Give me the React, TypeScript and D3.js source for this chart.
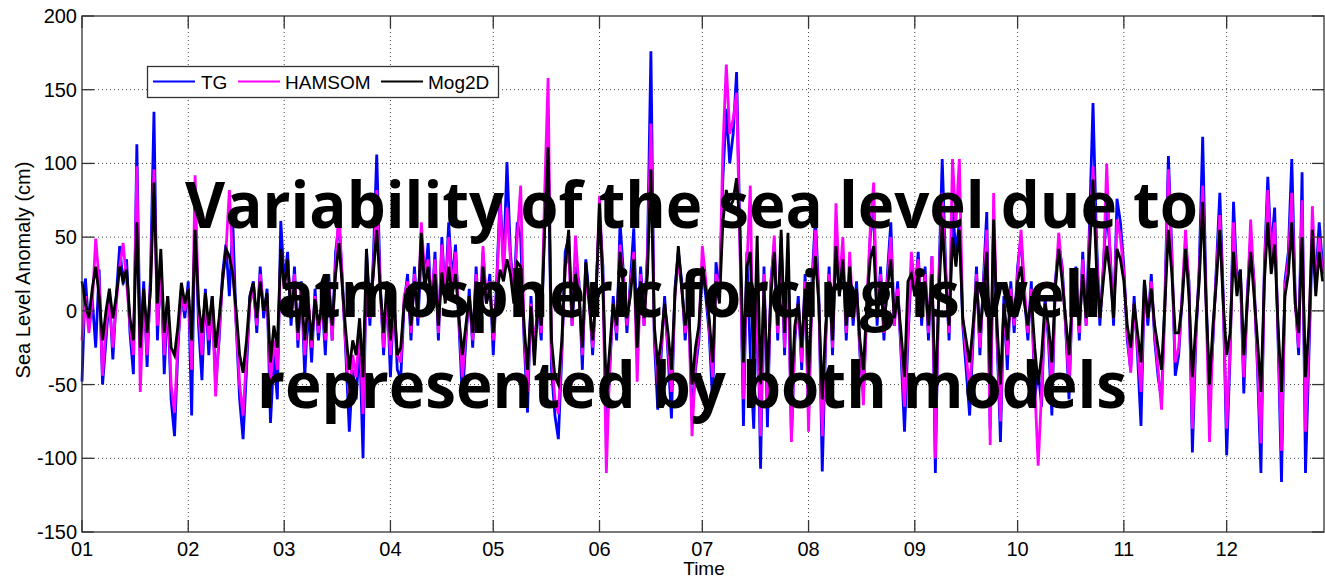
import React from 'react';
import * as d3 from 'd3';

// ---------- data (daily values, cm, starting 1 Jan) ----------
const YEAR = 2010;
const monthLabels = ['01', '02', '03', '04', '05', '06', '07', '08', '09', '10', '11', '12'];
const yTicks = [-150, -100, -50, 0, 50, 100, 150, 200];
const seriesNames = ['TG', 'HAMSOM', 'Mog2D'];
const seriesColors = ['#0000ff', '#ff00ff', '#000000'];
const xLabel = 'Time';
const yLabel = 'Sea Level Anomaly (cm)';
const overlayLines = [
  'Variability of the sea level due to',
  'atmospheric forcing is well',
  'represented by both models',
];

const tg = [
  -48, 22, -12, 8, -25, 28, -50, -20, 12, -33,
  10, 44, 18, 35, -15, -43, 113, -30, 20, -38,
  25, 135, -20, 35, -43, 10, -60, -85, -25, 15,
  -5, 20, -71, 70, -10, -47, 15, -30, 10, -50,
  -20, 25, 45, 10, 60, -10, -60, -87, -40, 10,
  20, -15, 30, -5, 15, -76, -30, -60, 61, 20,
  40, -10, 30, -25, 20, -45, 5, -35, 15, -20,
  10, -30, 25, -20, 40, 60, 20, -30, -82, -40,
  -60, -20, -100, 42, -10, 35, 106, 20, -30, 15,
  -45, 10, -40, -46, 5, 25, -20, 30, -10, 40,
  20, 46, 0, 40, -20, 50, 10, 60, 20, 45,
  -10, -60, -20, 15, -25, 30, -15, 40, 5, 25,
  -30, 20, 78, 30, 101, 40, 10, 60, 50, -20,
  -69, 10, -30, 5, -20, 60, 120, -40, -71, -87,
  -30, 40, 50, -10, 30, 20, -40, 35, 10, -30,
  15, 65, 30, -85, -40, 10, -20, 60, 25, -15,
  20, 56, -20, 30, -10, 40, 176, -20, -67, -30,
  10, -30, -73, 15, 40, 20, -20, 10, -73, -40,
  -20, 30, 10, -15, -62, 33, 10, 90, 137, 100,
  120, 162, 50, -78, 40, -30, -80, 20, -107, 30,
  -79, 20, 45, -20, 50, -30, 40, -86, -20, 10,
  -40, 25, -70, 20, 64, 10, -109, -20, 30, -30,
  50, 10, 40, -20, 30, -10, 20, -30, -55, 0,
  50, 70, -10, 30, -20, 25, 60, -10, 20, -30,
  -82, -20, 30, 10, 40, -10, 30, -20, 37, -110,
  20, 103, 30, -20, 70, 40, 60, -10, -40, -71,
  -20, 30, -30, 20, 67, -80, 60, -20, -89, 10,
  -40, 20, -15, 30, 50, 10, -20, 20, -60, -40,
  -65, 10, -20, -71, 20, 45, 30, -10, -60, 15,
  30, -20, 40, -10, 60, 141, 50, -10, 30, 70,
  40, -10, 76, 60, 30, -20, -40, 10, -30, -78,
  20, -10, 25, -20, -45, -60, 10, 105, 40, -44,
  -30, 10, 45, 20, -96, -20, 30, 118, 10, -60,
  -20, 30, 80, 10, -98, -30, 74, 20, 28, -56,
  10, 50, 20, -40, -110, 30, 91, 40, 70, -20,
  -116, 20, 40, 103, 10, -30, 94, -110, -30, 50,
  20, 60, 30,
];

const hamsom = [
  -20, 10, -15, 5, 49, 20, -44, -10, 5, -25,
  5, 30, 46, 20, -10, -30, 98, -55, 10, -30,
  20, 96, -10, 25, -30, 10, -50, -69, -20, 10,
  0, 15, -40, 92, 0, -30, 10, -20, 5, -58,
  -15, 20, 40, 82, 30, -10, -50, -71, -30, 5,
  15, -10, 25, 0, 10, -50, -20, -40, 40, 15,
  35, 0, 25, -20, 15, -30, 10, -25, 10, -15,
  5, -20, 20, -20, 30, 71, 15, -25, -60, -30,
  -45, -10, -70, 30, -5, 25, 82, 15, -25, 10,
  -30, 5, -30, -35, 10, 20, -15, 25, -5, 60,
  25, 35, 5, 35, -15, 45, 10, 50, 15, 40,
  -5, -45, -15, 10, -20, 25, -10, 44, 5, 20,
  -20, 15, 73, 25, 70, 35, 10, 50, 85, -15,
  -55, 5, -25, 5, -15, 80, 158, -30, -60, -70,
  -25, 30, 40, -10, 51, 15, -30, 25, 5, -25,
  10, 78, 20, -110, -35, 5, -15, 45, 20, -10,
  15, 40, -48, 25, -10, 35, 127, -15, -50, -25,
  5, -25, -55, 10, 35, 15, -15, 5, -85, -35,
  -15, 44, 21, -10, -45, 25, 10, 110, 167, 120,
  130, 148, 40, -60, 30, 85, -60, 15, -85, 25,
  -65, 15, 51, -15, 45, -25, 35, -89, -15, 5,
  -35, 20, -82, 15, 55, 5, -85, -15, 25, -25,
  73, 15, 50, -15, 40, -5, 15, -25, -64, 5,
  55, 87, -5, 25, -15, 20, 50, -10, 15, -25,
  -65, -15, 40, 15, 35, -5, 25, -15, 37, -100,
  15, 80, 25, -15, 103, 60, 103, -5, -30, -55,
  -15, 25, -25, 15, 55, -91, 80, -15, -75, 5,
  -30, 15, -10, 25, 55, 15, -15, 15, -50, -105,
  -55, 5, -15, -55, 15, 53, 25, -10, -50, 10,
  25, -15, 35, -10, 50, 98, 40, -5, 25, 100,
  35, -5, 62, 50, 25, -15, -42, 5, -25, -55,
  15, -5, 20, -15, -40, -67, 5, 96, 35, -35,
  -25, 10, 55, 15, -80, -15, 25, 85, 5, -89,
  -15, 25, 65, 5, -80, -25, 60, 15, 25, -45,
  5, 62, 15, -35, -90, 25, 82, 35, 60, -15,
  -95, 15, 35, 80, 5, -25, 75, -82, -20, 71,
  15, 50, 25,
];

const mog2d = [
  20, 5, -5, 15, 30, 10, -20, 0, 15, -5,
  10, 30, 20, 28, -5, -20, 60, -25, 15, -15,
  15, 87, 5, 42, -15, 10, -25, -30, -10, 19,
  5, 15, -20, 55, 5, -15, 12, -10, 10, -25,
  -5, 20, 42, 37, 25, 0, -30, -42, -20, 10,
  19, -5, 20, 0, 12, -35, -10, -25, 42, 15,
  35, -5, 20, -15, 10, -20, 5, -20, 8, -10,
  5, -15, 15, -10, 25, 46, 15, -15, -40, -20,
  -30, -5, -45, 42, 0, 25, 55, 15, -15, 20,
  -20, 10, -30, -25, 5, 15, -10, 20, 0, 53,
  15, 30, 5, 25, -10, 26, 5, 30, 10, 25,
  -5, -30, -10, 10, -15, 20, -5, 30, 5, 15,
  -15, 10, 28, 20, 35, 25, 5, 33, 30, -10,
  -40, 3, -37, 5, -10, 55, 111, -20, -45, -50,
  -20, 30, 55, -5, 25, 10, -25, 33, 5, -20,
  10, 73, 15, -55, -25, 5, -10, 40, 15, -5,
  10, 35, -25, 20, -5, 25, 96, -10, -37, -20,
  5, -15, -40, 10, 44, 15, -10, 5, -50, -25,
  -10, 30, 15, -5, -35, 20, 5, 60, 82, 70,
  75, 90, 55, -35, 30, 40, -40, 51, -50, 15,
  -45, 10, 40, -10, 55, -15, 53, -55, -10, 5,
  -25, 15, -45, 10, 37, 5, -60, -10, 20, -20,
  44, 10, 35, -10, 30, -5, 15, -20, -40, 5,
  35, 44, -5, 20, -10, 15, 35, -5, 10, -15,
  -45, 20, 25, 10, 25, -5, 20, -10, 25, -60,
  10, 60, 20, -10, 50, 30, 55, -5, -20, -35,
  -10, 20, -15, 10, 40, -45, 62, -10, -50, 5,
  -20, 10, -5, 20, 30, 5, -10, 10, -25, -50,
  -30, 5, -10, -35, 15, 42, 20, -5, -30, 10,
  20, -10, 25, -5, 40, 89, 30, -5, 20, 44,
  25, -5, 42, 35, 20, -10, -25, 5, -15, -35,
  21, -5, 15, -10, -25, -40, 5, 55, 25, -15,
  -15, 5, 42, 10, -45, -10, 20, 74, 5, -50,
  -10, 20, 55, 5, -30, -15, 40, 10, 28, -30,
  5, 40, 10, -20, -55, 20, 60, 25, 45, -10,
  -55, 10, 25, 60, 5, -15, 50, -45, -10, 55,
  10, 40, 20,
];

const allSeries = [tg, hamsom, mog2d];

export default function App() {
  const W = 1325;
  const H = 579;
  const left = 82;
  const right = 1324;
  const top = 16;
  const bottom = 532;
  const DAY = 86400000;
  const start = Date.UTC(YEAR, 0, 1);

  const x = d3
    .scaleUtc()
    .domain([new Date(start), new Date(start + 362.4 * DAY)])
    .range([left, right]);
  const y = d3.scaleLinear().domain([-150, 200]).range([bottom, top]);

  const monthDates = monthLabels.map((_, i) => new Date(Date.UTC(YEAR, i, 1)));
  const fmt = d3.utcFormat('%m');

  const line = d3
    .line<number>()
    .x((_, i) => x(new Date(start + i * DAY)))
    .y((v) => y(v));

  const axisColor = '#333';
  const tickLen = 12;
  const font = 'Liberation Sans, Arial, sans-serif';

  const overlay = [
    { x0: 185, x1: 1198, base: 228 },
    { x0: 277, x1: 1102, base: 317 },
    { x0: 257, x1: 1127, base: 408 },
  ];

  const legendItems = [
    { lx: 153, tx: 201 },
    { lx: 238, tx: 285 },
    { lx: 381, tx: 428 },
  ];

  return (
    <svg
      width={W}
      height={H}
      style={{ position: 'absolute', left: 0, top: 0, display: 'block', background: '#fff' }}
    >
      <rect x={0} y={0} width={W} height={H} fill="#fff" />
      {/* grid */}
      <g stroke="#444" strokeWidth={1} strokeDasharray="1 3" fill="none">
        {monthDates.slice(1).map((d, i) => (
          <line key={'gx' + i} x1={x(d)} x2={x(d)} y1={top} y2={bottom} />
        ))}
        {yTicks.slice(1, -1).map((v) => (
          <line key={'gy' + v} x1={left} x2={right} y1={y(v)} y2={y(v)} />
        ))}
      </g>
      {/* series */}
      <g fill="none" strokeLinejoin="miter" strokeWidth={2.8}>
        {allSeries.map((s, k) => (
          <path key={seriesNames[k]} d={line(s) || ''} stroke={seriesColors[k]} />
        ))}
      </g>
      {/* frame */}
      <rect
        x={left}
        y={top}
        width={right - left}
        height={bottom - top}
        fill="none"
        stroke={axisColor}
        strokeWidth={1.3}
      />
      {/* ticks */}
      <g stroke={axisColor} strokeWidth={1.3}>
        {monthDates.map((d, i) => (
          <g key={'tx' + i}>
            <line x1={x(d)} x2={x(d)} y1={bottom} y2={bottom - tickLen} />
            <line x1={x(d)} x2={x(d)} y1={top} y2={top + tickLen} />
          </g>
        ))}
        {yTicks.map((v) => (
          <g key={'ty' + v}>
            <line x1={left} x2={left + tickLen} y1={y(v)} y2={y(v)} />
            <line x1={right} x2={right - tickLen} y1={y(v)} y2={y(v)} />
          </g>
        ))}
      </g>
      {/* tick labels */}
      <g fontFamily={font} fontSize={20} fill="#000">
        {monthDates.map((d, i) => (
          <text key={'lx' + i} x={x(d)} y={556} textAnchor="middle">
            {fmt(d)}
          </text>
        ))}
        {yTicks.map((v) => (
          <text key={'ly' + v} x={77} y={y(v) + 7} textAnchor="end">
            {v}
          </text>
        ))}
      </g>
      {/* axis titles */}
      <text x={704} y={575} textAnchor="middle" fontFamily={font} fontSize={19}>
        {xLabel}
      </text>
      <text
        transform={`translate(23,270) rotate(-90)`}
        textAnchor="middle"
        dy="0.35em"
        fontFamily={font}
        fontSize={20}
      >
        {yLabel}
      </text>
      {/* legend */}
      <g>
        <rect x={147.5} y={66.5} width={351} height={31} fill="#fff" stroke={axisColor} strokeWidth={1.3} />
        {legendItems.map((it, k) => (
          <g key={'lg' + k}>
            <line x1={it.lx} x2={it.lx + 42} y1={81.5} y2={81.5} stroke={seriesColors[k]} strokeWidth={2} />
            <text x={it.tx} y={88.5} fontFamily={font} fontSize={19}>
              {seriesNames[k]}
            </text>
          </g>
        ))}
      </g>
      {/* overlay annotation */}
      <g fontFamily="'Open Sans', sans-serif" fontWeight={700} fontSize={65} fill="#000">
        {overlayLines.map((t, i) => (
          <text
            key={'ov' + i}
            x={overlay[i].x0}
            y={overlay[i].base}
            textLength={overlay[i].x1 - overlay[i].x0}
            lengthAdjust="spacingAndGlyphs"
          >
            {t}
          </text>
        ))}
      </g>
    </svg>
  );
}
